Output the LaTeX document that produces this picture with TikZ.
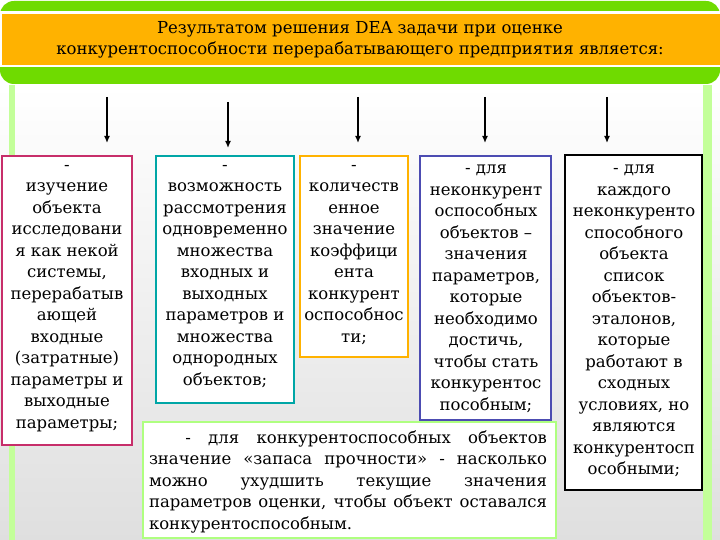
\documentclass[tikz,border=0pt]{standalone}
\usepackage{fontspec}
\setmainfont{DejaVu Serif}
\usetikzlibrary{arrows.meta}
\begin{document}
\begin{tikzpicture}[x=1pt,y=-1pt,
  box/.style={draw,line width=1.6pt,fill=white,inner sep=2pt},
  txt/.style={align=center,font=\fontsize{16.5}{21.5}\selectfont,anchor=north,inner sep=0pt},
  arr/.style={-{Latex[length=7pt,width=6pt]},line width=1.3pt}]
\useasboundingbox (0,0) rectangle (720,540);
\shade[top color=white,bottom color=gray!25] (0,85) rectangle (720,540);
\fill[green!45!lime!40!white] (9,85) rectangle (15,540);
\fill[green!45!lime!40!white] (703,85) rectangle (712,540);
\fill[green!50!lime!80!black!70!lime, rounded corners=14pt] (0,1) rectangle (720,84);
\fill[white] (0,11) rectangle (720,67);
\fill[orange!60!yellow] (2,14) rectangle (720,65);
\node[txt,anchor=center] (t) at (360,40) {Результатом решения DEA задачи при оценке\\конкурентоспособности перерабатывающего предприятия является:};
\coordinate (a1) at (107,97); \coordinate (a2) at (228,102); \coordinate (a3) at (358,97);
\coordinate (a4) at (485,97); \coordinate (a5) at (607,97);
\draw[box,draw=magenta!70!red!80!black] (2,156) rectangle (132,445);
\draw[box,draw=teal!70!cyan] (156,156) rectangle (294,403);
\draw[box,draw=orange!60!yellow] (300,156) rectangle (408,357);
\draw[box,draw=blue!40!gray] (420,156) rectangle (551,420);
\draw[box,draw=black] (565,155) rectangle (702,490);
\draw[box,draw=green!50!lime!50!white] (143,422) rectangle (556,538);
\node[txt] (b1) at (67,165) {-\\изучение\\объекта\\исследовани\\я как некой\\системы,\\перерабатыв\\ающей\\входные\\(затратные)\\параметры и\\выходные\\параметры;};
\node[txt] (b2) at (225,165) {-\\возможность\\рассмотрения\\одновременно\\множества\\входных и\\выходных\\параметров и\\множества\\однородных\\объектов;};
\node[txt] (b3) at (354,165) {-\\количеств\\енное\\значение\\коэффици\\ента\\конкурент\\оспособнос\\ти;};
\node[txt] (b4) at (486,165) {- для\\неконкурент\\оспособных\\объектов –\\значения\\параметров,\\которые\\необходимо\\достичь,\\чтобы стать\\конкурентос\\пособным;};
\node[txt] (b5) at (634,165) {- для\\каждого\\неконкуренто\\способного\\объекта\\список\\объектов-\\эталонов,\\которые\\работают в\\сходных\\условиях, но\\являются\\конкурентосп\\особными;};
\node[txt,align=justify,text width=398pt] (b6) at (348,430) {\hspace*{2.2em}- для конкурентоспособных объектов значение «запаса прочности» - насколько можно ухудшить текущие значения параметров оценки, чтобы объект оставался конкурентоспособным.};
\draw[arr] (a1) -- (107,143);
\draw[arr] (a2) -- (228,148);
\draw[arr] (a3) -- (358,143);
\draw[arr] (a4) -- (485,143);
\draw[arr] (a5) -- (607,143);
\end{tikzpicture}
\end{document}
